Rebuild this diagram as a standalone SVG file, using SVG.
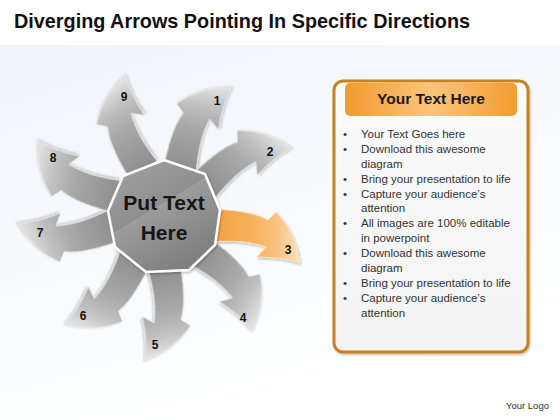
<svg xmlns="http://www.w3.org/2000/svg" xmlns:xlink="http://www.w3.org/1999/xlink" width="560" height="420" viewBox="0 0 560 420">
<style>
.title{font-family:"Liberation Sans",Arial,sans-serif;font-weight:bold;font-size:21px;fill:#111}
.num{font-family:"Liberation Sans",Arial,sans-serif;font-weight:bold;font-size:12px;fill:#111;text-anchor:middle;dominant-baseline:central}
.center{font-family:"Liberation Sans",Arial,sans-serif;font-weight:bold;font-size:21px;fill:#161616;text-anchor:middle}
.head{font-family:"Liberation Sans",Arial,sans-serif;font-weight:bold;font-size:15.5px;fill:#1a1a1a;text-anchor:middle}
.item{font-family:"Liberation Sans",Arial,sans-serif;font-size:11.5px;fill:#333}
.logo{font-family:"Liberation Sans",Arial,sans-serif;font-size:9.5px;fill:#333}
.grey{fill:url(#gGrey);stroke:#e4e4e4;stroke-width:0.9;filter:url(#sh)}
.orange{fill:url(#gOrange);stroke:#fbe3c4;stroke-width:0.9;filter:url(#sh)}
</style>
<defs>
<linearGradient id="bg" x1="0" y1="0" x2="0.4" y2="1">
<stop offset="0" stop-color="#edf3f9"/>
<stop offset="0.6" stop-color="#f8fafd"/>
<stop offset="1" stop-color="#ffffff"/>
</linearGradient>
<linearGradient id="gGrey" gradientUnits="userSpaceOnUse" x1="212" y1="0" x2="300" y2="0">
<stop offset="0" stop-color="#8e8e8e"/>
<stop offset="0.5" stop-color="#a8a8a8"/>
<stop offset="0.75" stop-color="#c0c0c0"/>
<stop offset="1" stop-color="#e4e4e4"/>
</linearGradient>
<linearGradient id="gOrange" gradientUnits="userSpaceOnUse" x1="212" y1="0" x2="300" y2="0">
<stop offset="0" stop-color="#f4a040"/>
<stop offset="0.5" stop-color="#f7b35f"/>
<stop offset="0.75" stop-color="#f9c482"/>
<stop offset="1" stop-color="#fde2bd"/>
</linearGradient>
<linearGradient id="gNon" x1="0" y1="0" x2="0.6" y2="1">
<stop offset="0" stop-color="#a3a3a3"/>
<stop offset="0.5" stop-color="#8f8f8f"/>
<stop offset="0.5" stop-color="#9c9c9c"/>
<stop offset="1" stop-color="#7e7e7e"/>
</linearGradient>
<linearGradient id="gHead" x1="0" y1="0" x2="1" y2="0">
<stop offset="0" stop-color="#f29a2e"/>
<stop offset="0.5" stop-color="#fbc57c"/>
<stop offset="1" stop-color="#f39b30"/>
</linearGradient>
<linearGradient id="gPanel" x1="0" y1="0" x2="0" y2="1">
<stop offset="0" stop-color="#fbfbfb"/>
<stop offset="1" stop-color="#f3f3f3"/>
</linearGradient>
<filter id="sh" x="-20%" y="-20%" width="140%" height="140%">
<feDropShadow dx="1" dy="1.5" stdDeviation="1.2" flood-color="#000" flood-opacity="0.25"/>
</filter>
<path id="arrowShape" d="M212,209 C232,210 254,212 268,220 L276,212 Q296,232 300,263 Q280,257 257,257 L266,247 C252,242 234,240 212,242 Z"/>
</defs>
<rect width="560" height="420" fill="url(#bg)"/>
<rect width="560" height="45" fill="#ffffff"/>
<text class="title" x="14" y="28" textLength="456" lengthAdjust="spacingAndGlyphs">Diverging Arrows Pointing In Specific Directions</text>

<g id="arrow-1"><use xlink:href="#arrowShape" class="grey" transform="rotate(-81 163 216)"/><text class="num" x="217" y="101">1</text></g>
<g id="arrow-2"><use xlink:href="#arrowShape" class="grey" transform="rotate(-47 163 216)"/><text class="num" x="270" y="152">2</text></g>
<g id="arrow-3"><use xlink:href="#arrowShape" class="orange"/><text class="num" x="288" y="250">3</text></g>
<g id="arrow-4"><use xlink:href="#arrowShape" class="grey" transform="rotate(33 163 216)"/><text class="num" x="243" y="318">4</text></g>
<g id="arrow-5"><use xlink:href="#arrowShape" class="grey" transform="rotate(78 163 216)"/><text class="num" x="155" y="345">5</text></g>
<g id="arrow-6"><use xlink:href="#arrowShape" class="grey" transform="rotate(113 163 216)"/><text class="num" x="83" y="316">6</text></g>
<g id="arrow-7"><use xlink:href="#arrowShape" class="grey" transform="rotate(158 163 216)"/><text class="num" x="40" y="233">7</text></g>
<g id="arrow-8"><use xlink:href="#arrowShape" class="grey" transform="rotate(192 163 216)"/><text class="num" x="53" y="158">8</text></g>
<g id="arrow-9"><use xlink:href="#arrowShape" class="grey" transform="rotate(236 163 216)"/><text class="num" x="124" y="97">9</text></g>

<g id="center">
<polygon points="164,160 205,174 220,210 215,245 189,270 146,272 115,247 108,211 123,176" fill="url(#gNon)" stroke="#ffffff" stroke-width="2.5" filter="url(#sh)"/>
<text class="center" x="164" y="210">Put Text</text>
<text class="center" x="164" y="240">Here</text>
</g>

<g id="panel">
<rect x="334" y="81" width="194" height="271" rx="9" fill="url(#gPanel)" stroke="#c8821f" stroke-width="3" filter="url(#sh)"/>
<rect x="345" y="83" width="172" height="33" rx="5" fill="url(#gHead)"/>
<text class="head" x="431" y="104">Your Text Here</text>
<g class="item">
<text x="343" y="138">•</text><text x="361" y="138">Your Text Goes here</text>
<text x="343" y="153">•</text><text x="361" y="153">Download this awesome</text>
<text x="361" y="168">diagram</text>
<text x="343" y="183">•</text><text x="361" y="183">Bring your presentation to life</text>
<text x="343" y="198">•</text><text x="361" y="198">Capture your audience’s</text>
<text x="361" y="212">attention</text>
<text x="343" y="227">•</text><text x="361" y="227">All images are 100% editable</text>
<text x="361" y="242">in powerpoint</text>
<text x="343" y="257">•</text><text x="361" y="257">Download this awesome</text>
<text x="361" y="272">diagram</text>
<text x="343" y="287">•</text><text x="361" y="287">Bring your presentation to life</text>
<text x="343" y="302">•</text><text x="361" y="302">Capture your audience’s</text>
<text x="361" y="317">attention</text>
</g>
</g>
<text class="logo" x="506" y="409">Your Logo</text>
</svg>
